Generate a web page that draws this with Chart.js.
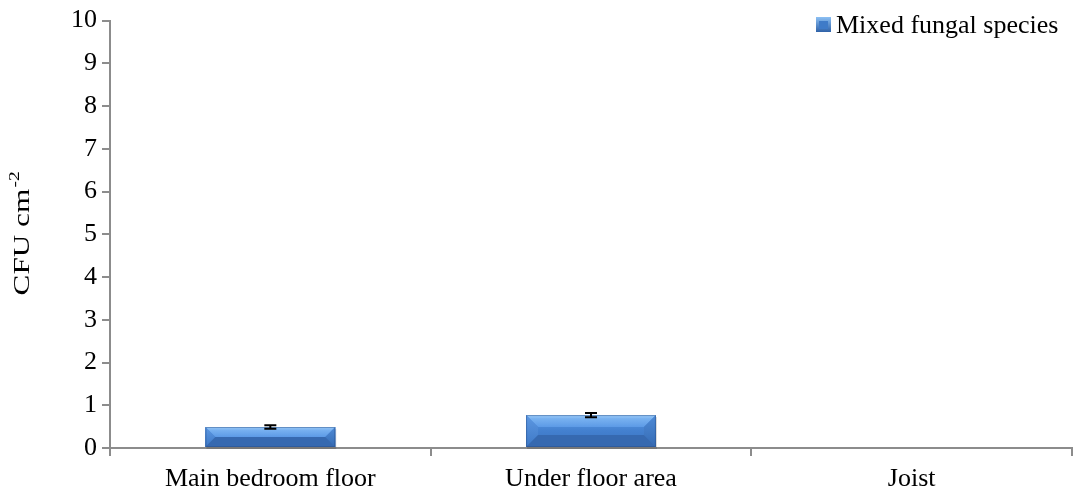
<!DOCTYPE html>
<html lang="en">
<head>
    <meta charset="UTF-8">
    <title>CFU cm-2 - Mixed fungal species</title>
    <script src="https://cdn.jsdelivr.net/npm/chart.js"></script>
    <style>
        body {
            margin: 0;
            background-color: #fff;
        }
        .wrap {
            width: 1073px;
            height: 497px;
        }
    </style>
</head>
<body>

<div class="wrap">
    <canvas id="grafico"></canvas>
</div>

<script>
const categorias = ["Main bedroom floor", "Under floor area", "Joist"];
const valores = [0.49, 0.77, 0];
const erros = [0.04, 0.05, 0];
const yTicks = [0, 1, 2, 3, 4, 5, 6, 7, 8, 9, 10];
const nomeSerie = "Mixed fungal species";

const fonte = "'Liberation Serif', 'Times New Roman', serif";
const corEixo = '#8c8c8c';

// bevel look on each bar, drawn over the library's own bar elements
const bevelPlugin = {
    id: 'bevel',
    afterDatasetsDraw(chart) {
        const ctx = chart.ctx;
        const meta = chart.getDatasetMeta(0);
        meta.data.forEach((bar) => {
            const l = bar.x - bar.width / 2;
            const r = bar.x + bar.width / 2;
            const t = bar.y;
            const bt = bar.base;
            const h = bt - t;
            if (h < 1) return;
            const b = Math.min(12, h / 2);
            ctx.save();
            // shadow under the bar
            ctx.fillStyle = 'rgba(0,0,0,0.15)';
            ctx.fillRect(l + 1, t + 2, r - l, h);
            // main face
            const g = ctx.createLinearGradient(0, t, 0, bt);
            g.addColorStop(0, '#5c9ae6');
            g.addColorStop(0.5, '#4380cf');
            g.addColorStop(1, '#3a72bf');
            ctx.fillStyle = g;
            ctx.fillRect(l, t, r - l, h);
            // top
            const gt = ctx.createLinearGradient(0, t, 0, t + b);
            gt.addColorStop(0, '#9fcefa');
            gt.addColorStop(0.3, '#78b1f0');
            gt.addColorStop(1, '#5c9ae6');
            ctx.fillStyle = gt;
            ctx.beginPath();
            ctx.moveTo(l, t); ctx.lineTo(r, t); ctx.lineTo(r - b, t + b); ctx.lineTo(l + b, t + b);
            ctx.closePath(); ctx.fill();
            // left
            const gl = ctx.createLinearGradient(0, t, 0, bt);
            gl.addColorStop(0, '#5d98e2');
            gl.addColorStop(1, '#3d78c6');
            ctx.fillStyle = gl;
            ctx.beginPath();
            ctx.moveTo(l, t); ctx.lineTo(l + b, t + b); ctx.lineTo(l + b, bt - b); ctx.lineTo(l, bt);
            ctx.closePath(); ctx.fill();
            // right
            const gr = ctx.createLinearGradient(0, t, 0, bt);
            gr.addColorStop(0, '#4e8ad6');
            gr.addColorStop(1, '#356bb4');
            ctx.fillStyle = gr;
            ctx.beginPath();
            ctx.moveTo(r, t); ctx.lineTo(r - b, t + b); ctx.lineTo(r - b, bt - b); ctx.lineTo(r, bt);
            ctx.closePath(); ctx.fill();
            // bottom
            ctx.fillStyle = '#3669b0';
            ctx.beginPath();
            ctx.moveTo(l, bt); ctx.lineTo(l + b, bt - b); ctx.lineTo(r - b, bt - b); ctx.lineTo(r, bt);
            ctx.closePath(); ctx.fill();
            ctx.strokeStyle = 'rgba(40,80,140,0.5)';
            ctx.lineWidth = 1;
            ctx.strokeRect(l + 0.5, t + 0.5, r - l - 1, h - 1);
            ctx.restore();
        });
    }
};

const errorPlugin = {
    id: 'errorBars',
    afterDatasetsDraw(chart) {
        const ctx = chart.ctx;
        const y = chart.scales.y;
        const meta = chart.getDatasetMeta(0);
        ctx.save();
        ctx.strokeStyle = '#000';
        ctx.lineWidth = 2;
        meta.data.forEach((bar, i) => {
            if (!valores[i]) return;
            const topo = y.getPixelForValue(valores[i] + erros[i]);
            const baixo = y.getPixelForValue(valores[i] - erros[i]);
            const x = bar.x;
            ctx.beginPath();
            ctx.moveTo(x, topo); ctx.lineTo(x, baixo);
            ctx.moveTo(x - 6, topo); ctx.lineTo(x + 6, topo);
            ctx.moveTo(x - 6, baixo); ctx.lineTo(x + 6, baixo);
            ctx.stroke();
        });
        ctx.restore();
    }
};

const legendaPlugin = {
    id: 'legenda',
    afterDraw(chart) {
        const ctx = chart.ctx;
        ctx.save();
        const bx = 816, by = 17, s = 15;
        const g = ctx.createLinearGradient(0, by, 0, by + s);
        g.addColorStop(0, '#8cc0f4');
        g.addColorStop(1, '#2f62a8');
        ctx.fillStyle = g;
        ctx.fillRect(bx, by, s, s);
        ctx.fillStyle = '#3f7bc8';
        ctx.fillRect(bx + 3, by + 4, s - 6, s - 7);
        ctx.font = '26px ' + fonte;
        ctx.fillStyle = '#000';
        ctx.textBaseline = 'alphabetic';
        ctx.fillText(nomeSerie, 836, 33);
        ctx.restore();
    }
};

const tituloYPlugin = {
    id: 'tituloY',
    afterDraw(chart) {
        const ctx = chart.ctx;
        ctx.save();
        ctx.translate(29, 234);
        ctx.rotate(-Math.PI / 2);
        ctx.scale(1.3, 1);
        ctx.fillStyle = '#000';
        ctx.textBaseline = 'alphabetic';
        const base = 'CFU cm';
        ctx.font = '24px ' + fonte;
        const wBase = ctx.measureText(base).width;
        ctx.font = '15px ' + fonte;
        const wSup = ctx.measureText('-2').width;
        const x0 = -(wBase + wSup) / 2;
        ctx.font = '24px ' + fonte;
        ctx.fillText(base, x0, 0);
        ctx.font = '15px ' + fonte;
        ctx.fillText('-2', x0 + wBase + 1, -10);
        ctx.restore();
    }
};

new Chart(document.getElementById('grafico'), {
    type: 'bar',
    data: {
        labels: categorias,
        datasets: [{
            label: nomeSerie,
            data: valores,
            backgroundColor: '#4a85d2',
            borderWidth: 0,
            categoryPercentage: 1,
            barPercentage: 0.405
        }]
    },
    options: {
        responsive: true,
        maintainAspectRatio: false,
        animation: false,
        layout: {padding: {left: 0, right: 1, top: 19, bottom: 0}},
        plugins: {legend: {display: false}, tooltip: {enabled: false}},
        scales: {
            x: {
                afterFit(scale) { scale.height = 49; },
                grid: {offset: true, drawOnChartArea: false, drawTicks: true, tickLength: 8, color: corEixo, lineWidth: 2},
                border: {color: corEixo, width: 2},
                ticks: {color: '#000', font: {family: fonte, size: 26}, padding: 8}
            },
            y: {
                min: 0,
                max: 10,
                afterFit(scale) { scale.width = 110; },
                afterBuildTicks(scale) {
                    scale.ticks = yTicks.map(v => ({value: v}));
                },
                grid: {drawOnChartArea: false, drawTicks: true, tickLength: 8, color: corEixo, lineWidth: 2},
                border: {color: corEixo, width: 2},
                ticks: {color: '#000', font: {family: fonte, size: 26}, padding: 5}
            }
        }
    },
    plugins: [bevelPlugin, errorPlugin, legendaPlugin, tituloYPlugin]
});
</script>

</body>
</html>
